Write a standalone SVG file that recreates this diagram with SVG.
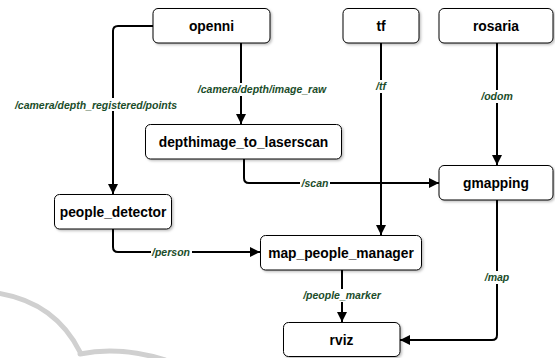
<svg xmlns="http://www.w3.org/2000/svg" width="555" height="358" viewBox="0 0 555 358">
<defs>
<filter id="sh" x="-10%" y="-20%" width="130%" height="160%">
<feDropShadow dx="1.5" dy="1.5" stdDeviation="1" flood-color="#000" flood-opacity="0.25"/>
</filter>
<marker id="ah" viewBox="0 0 10 10" refX="10" refY="5" markerWidth="5" markerHeight="5" orient="auto" markerUnits="strokeWidth">
<path d="M0,0 L10,5 L0,10 Z" fill="#000"/>
</marker>
<style>
.box{fill:#fff;stroke:#000;stroke-width:1;filter:url(#sh)}
.nt{font-family:"Liberation Sans",Arial,sans-serif;font-weight:bold;font-size:13.8px;fill:#000;text-anchor:middle}
.ln{fill:none;stroke:#000;stroke-width:2;marker-end:url(#ah)}
.lb{font-family:"Liberation Sans",Arial,sans-serif;font-weight:bold;font-style:italic;font-size:10.5px;fill:#1b4d2a;text-anchor:middle}
.lbg{fill:#fff}
.wm{fill:none;stroke:#d0d0d0;stroke-width:5;stroke-linecap:round}
</style>
</defs>
<rect width="555" height="358" fill="#fff"/>
<g id="watermark">
<path class="wm" d="M-3,293 Q55,302 80,352"/>
<path class="wm" d="M80,354 Q120,346 165,360"/>
</g>
<g id="connectors">
<path class="ln" d="M153,26 L118,26 Q113,26 113,31 L113,194"/>
<path class="ln" d="M241,43 L241,124"/>
<path class="ln" d="M244,159 L244,178 Q244,183 249,183 L439,183"/>
<path class="ln" d="M381,43 L381,235"/>
<path class="ln" d="M497,43 L497,165"/>
<path class="ln" d="M113,229 L113,247 Q113,252 118,252 L260,252"/>
<path class="ln" d="M342,270 L342,322"/>
<path class="ln" d="M497,200 L497,335 Q497,340 492,340 L400,340"/>
<rect class="lbg" x="14" y="98" width="164" height="13"/>
<text class="lb" x="96" y="108.5">/camera/depth_registered/points</text>
<rect class="lbg" x="197" y="83" width="131" height="13"/>
<text class="lb" x="262" y="93">/camera/depth/image_raw</text>
<rect class="lbg" x="374" y="80" width="14" height="13"/>
<text class="lb" x="381" y="90">/tf</text>
<rect class="lbg" x="481" y="90" width="32" height="13"/>
<text class="lb" x="497" y="100">/odom</text>
<rect class="lbg" x="300" y="177" width="30" height="13"/>
<text class="lb" x="315" y="187">/scan</text>
<rect class="lbg" x="151" y="246" width="41" height="13"/>
<text class="lb" x="171" y="256">/person</text>
<rect class="lbg" x="302" y="289" width="80" height="13"/>
<text class="lb" x="342" y="299">/people_marker</text>
<rect class="lbg" x="484" y="271" width="26" height="13"/>
<text class="lb" x="497" y="281">/map</text>
</g>
<g id="openni"><rect class="box" x="153" y="8.5" width="117" height="34.5" rx="5"/><text class="nt" x="211.5" y="31">openni</text></g>
<g id="tf"><rect class="box" x="343" y="8.5" width="76" height="34.5" rx="5"/><text class="nt" x="381" y="31">tf</text></g>
<g id="rosaria"><rect class="box" x="439" y="8.5" width="114" height="34.5" rx="5"/><text class="nt" x="496" y="31">rosaria</text></g>
<g id="depthimage_to_laserscan"><rect class="box" x="145.5" y="124.5" width="196" height="34.5" rx="5"/><text class="nt" x="243.5" y="147">depthimage_to_laserscan</text></g>
<g id="gmapping"><rect class="box" x="439" y="165.5" width="114" height="34.5" rx="5"/><text class="nt" x="496" y="188">gmapping</text></g>
<g id="people_detector"><rect class="box" x="54.5" y="194.5" width="117" height="34.5" rx="5"/><text class="nt" x="113" y="217">people_detector</text></g>
<g id="map_people_manager"><rect class="box" x="260.5" y="235.5" width="161" height="34.5" rx="5"/><text class="nt" x="341" y="258">map_people_manager</text></g>
<g id="rviz"><rect class="box" x="283.5" y="322.5" width="116.5" height="34" rx="5"/><text class="nt" x="341.5" y="344.5">rviz</text></g>
</svg>
